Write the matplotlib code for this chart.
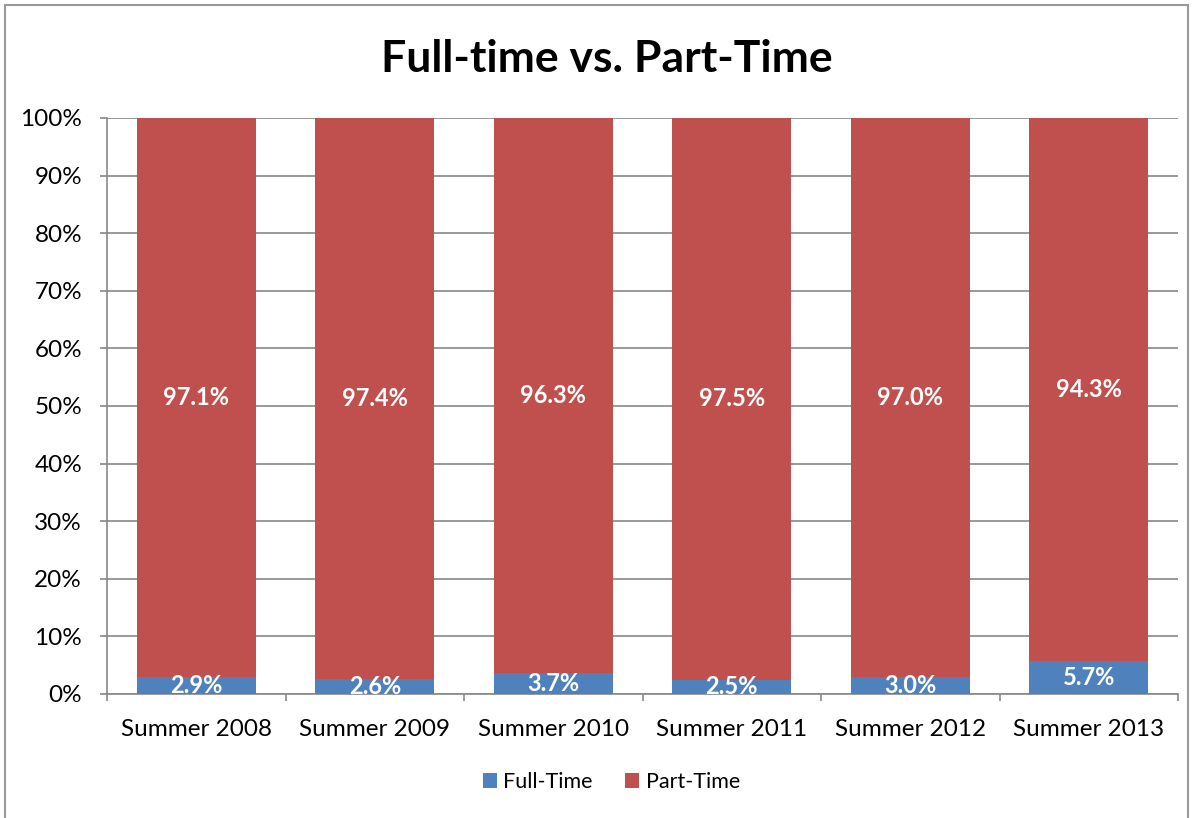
import matplotlib
matplotlib.use("Agg")
import matplotlib.pyplot as plt
from matplotlib.patches import Rectangle
from matplotlib.ticker import FuncFormatter, MultipleLocator

categories = ["Summer 2008", "Summer 2009", "Summer 2010", "Summer 2011", "Summer 2012", "Summer 2013"]
full_time = [2.9, 2.6, 3.7, 2.5, 3.0, 5.7]
part_time = [97.1, 97.4, 96.3, 97.5, 97.0, 94.3]
series_names = ["Full-Time", "Part-Time"]
colors = ["#4F81BD", "#C0504D"]

plt.rcParams['font.family'] = ['Lato', 'DejaVu Sans']

W, H = 1192, 818
fig = plt.figure(figsize=(W / 100, H / 100), dpi=100)
ax = fig.add_axes([107 / W, 1 - 694 / H, (1178 - 107) / W, (694 - 118) / H])

x = list(range(len(categories)))
b1 = ax.bar(x, full_time, width=0.667, color=colors[0], label=series_names[0], zorder=3)
b2 = ax.bar(x, part_time, width=0.667, bottom=full_time, color=colors[1], label=series_names[1], zorder=3)

for i in x:
    ax.text(i, full_time[i] / 2, f"{full_time[i]:.1f}%", ha="center", va="center",
            color="white", fontsize=17, fontweight="bold", zorder=4, clip_on=True)
    ax.text(i, full_time[i] + part_time[i] / 2, f"{part_time[i]:.1f}%", ha="center", va="center",
            color="white", fontsize=17, fontweight="bold", zorder=4, clip_on=True)

ax.set_xlim(-0.5, len(categories) - 0.5)
ax.set_ylim(0, 100)
ax.yaxis.set_major_locator(MultipleLocator(10))
ax.yaxis.set_major_formatter(FuncFormatter(lambda v, p: f"{v:.0f}%"))
ax.grid(axis="y", color="#888888", linewidth=1.2, zorder=0)
ax.set_axisbelow(True)

ax.set_xticks([i - 0.5 for i in range(len(categories) + 1)])
ax.set_xticklabels([])
ax.set_xticks(x, minor=True)
ax.set_xticklabels(categories, minor=True)
ax.tick_params(axis="x", which="major", length=5, color="#888888", width=1.2, direction="out")
ax.tick_params(axis="x", which="minor", length=0, labelsize=17.5, pad=18)
ax.tick_params(axis="y", length=5, color="#888888", width=1.2, labelsize=17.5, pad=13)

for s in ["top", "right"]:
    ax.spines[s].set_visible(False)
ax.spines["left"].set_color("#888888")
ax.spines["bottom"].set_color("#888888")
ax.spines["left"].set_linewidth(1.2)
ax.spines["bottom"].set_linewidth(1.2)

fig.text(607 / W, 1 - 59 / H, "Full-time vs. Part-Time", ha="center", va="center",
         fontsize=32, fontweight="bold")

fig.legend(handles=[b1, b2], labels=series_names, loc="center", bbox_to_anchor=(0.513, 1 - 782 / H),
           ncol=2, frameon=False, fontsize=15.5, handlelength=0.65, handleheight=0.65,
           handletextpad=0.3, columnspacing=1.5)

fig.patches.append(Rectangle((5 / W, -0.01), (1188 - 5) / W, 1 - 5 / H + 0.01, transform=fig.transFigure,
                             fill=False, edgecolor="#999999", linewidth=1.5))

fig.savefig("out.png", dpi=100)
